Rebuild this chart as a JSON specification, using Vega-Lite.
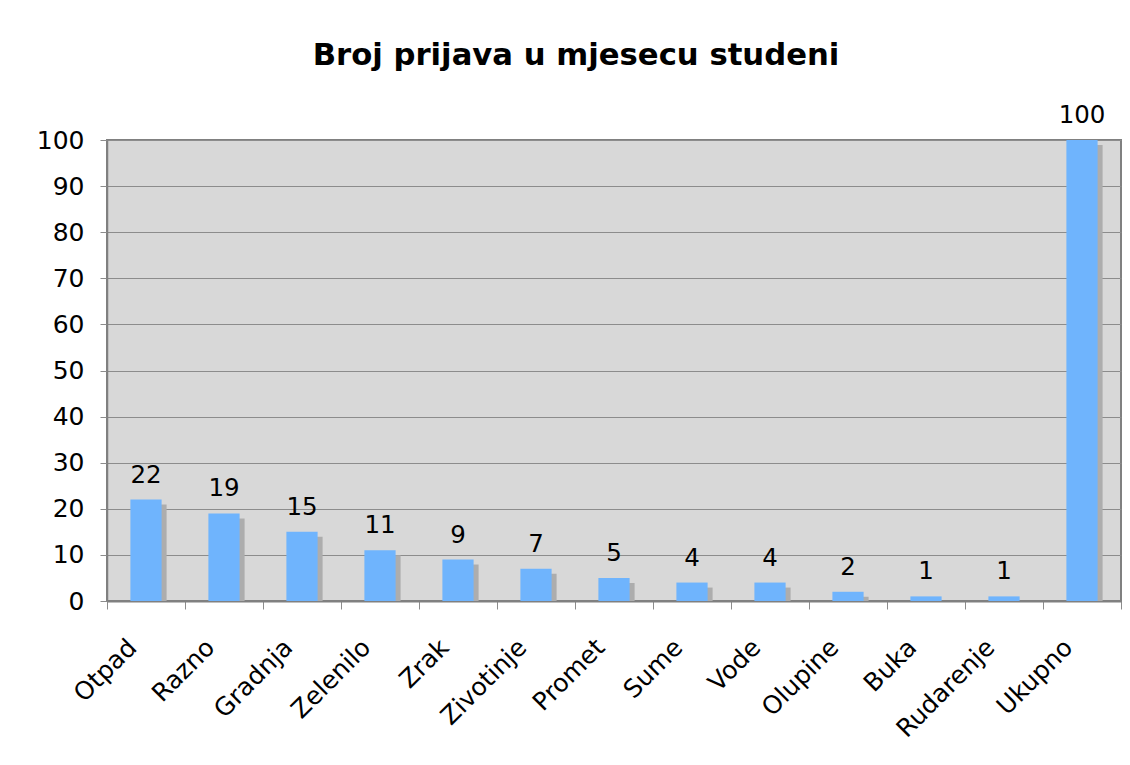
{
  "$schema": "https://vega.github.io/schema/vega-lite/v6.json",
  "autosize": {"type": "none"},
  "width": 1014,
  "height": 461,
  "padding": {"left": 107, "top": 140, "right": 9, "bottom": 164},
  "background": "white",
  "title": {
    "text": "Broj prijava u mjesecu studeni",
    "font": "DejaVu Sans",
    "fontSize": 30.7,
    "fontWeight": "bold",
    "color": "black",
    "anchor": "middle",
    "frame": "group",
    "dx": -38,
    "baseline": "alphabetic",
    "offset": 7
  },
  "data": {
    "values": [
      {"kategorija": "Otpad", "broj": 22},
      {"kategorija": "Razno", "broj": 19},
      {"kategorija": "Gradnja", "broj": 15},
      {"kategorija": "Zelenilo", "broj": 11},
      {"kategorija": "Zrak", "broj": 9},
      {"kategorija": "Zivotinje", "broj": 7},
      {"kategorija": "Promet", "broj": 5},
      {"kategorija": "Sume", "broj": 4},
      {"kategorija": "Vode", "broj": 4},
      {"kategorija": "Olupine", "broj": 2},
      {"kategorija": "Buka", "broj": 1},
      {"kategorija": "Rudarenje", "broj": 1},
      {"kategorija": "Ukupno", "broj": 100}
    ]
  },
  "encoding": {
    "x": {
      "field": "kategorija",
      "type": "nominal",
      "sort": null,
      "title": null,
      "scale": {"paddingInner": 0, "paddingOuter": 0},
      "axis": {
        "labelAngle": -45,
        "labelFont": "DejaVu Sans",
        "labelFontSize": 25,
        "labelColor": "black",
        "labelBaseline": "middle",
        "labelAlign": "right",
        "labelPadding": 34,
        "labelOffset": -14,
        "tickBand": "extent",
        "tickSize": 8,
        "tickColor": "#8c8c8c",
        "tickWidth": 1,
        "domainColor": "#808080",
        "domainWidth": 2,
        "grid": false
      }
    },
    "y": {
      "field": "broj",
      "type": "quantitative",
      "title": null,
      "scale": {"domain": [0, 100], "nice": false},
      "axis": {
        "values": [0, 10, 20, 30, 40, 50, 60, 70, 80, 90, 100],
        "labelFont": "DejaVu Sans",
        "labelFontSize": 25,
        "labelColor": "black",
        "labelPadding": 16,
        "tickSize": 7,
        "tickColor": "#8c8c8c",
        "domainColor": "#808080",
        "domainWidth": 1.5,
        "grid": true,
        "gridColor": "#8c8c8c",
        "gridWidth": 1
      }
    }
  },
  "layer": [
    {
      "mark": {"type": "bar", "color": "#adadad", "width": {"band": 0.4}, "xOffset": 5, "yOffset": 5, "y2Offset": 0, "clip": true}
    },
    {
      "mark": {"type": "bar", "color": "#6fb4fd", "width": {"band": 0.4}}
    },
    {
      "mark": {"type": "text", "font": "DejaVu Sans", "fontSize": 24.5, "color": "black", "baseline": "alphabetic", "dy": -17},
      "encoding": {"text": {"field": "broj", "type": "quantitative"}}
    }
  ],
  "config": {
    "view": {"fill": "#d8d8d8", "stroke": "#808080", "strokeWidth": 2}
  }
}
